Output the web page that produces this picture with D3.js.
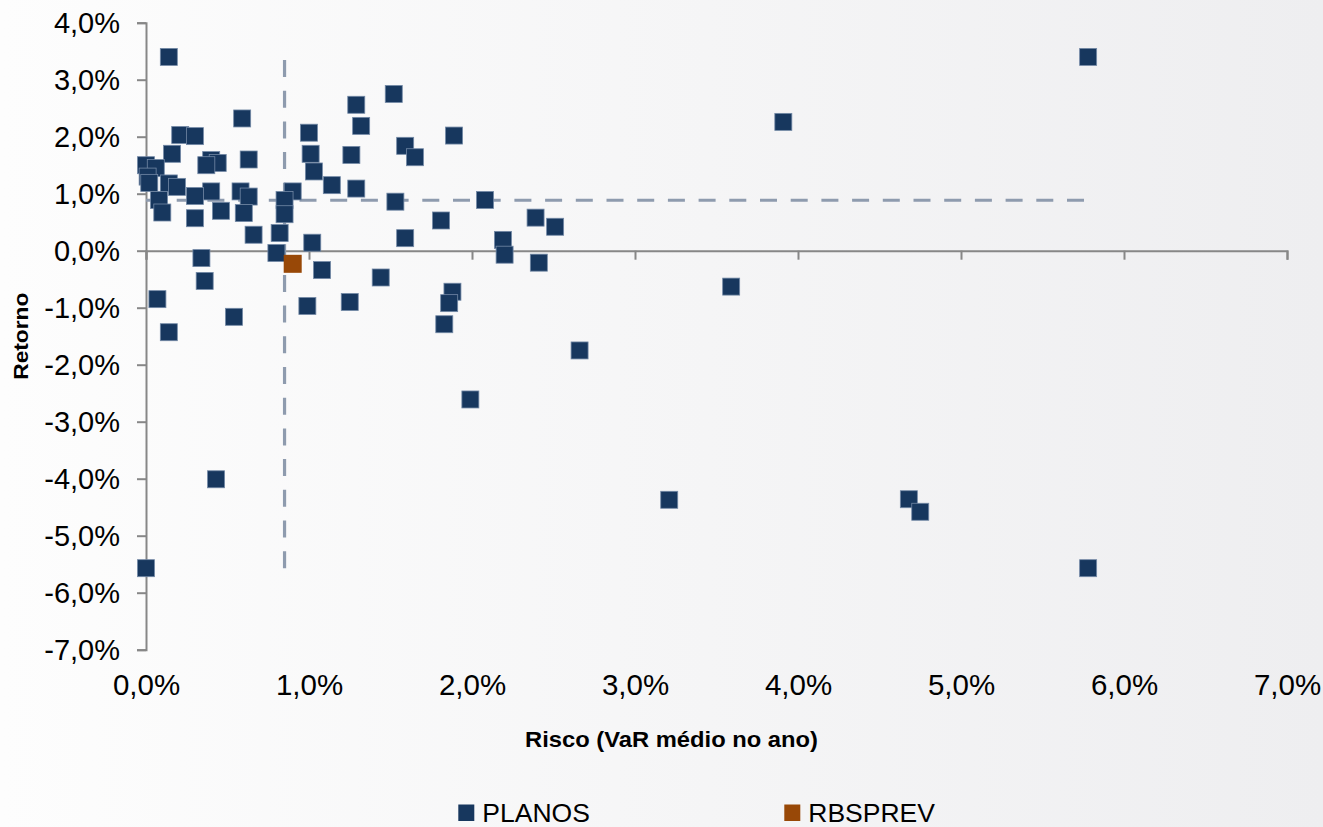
<!DOCTYPE html>
<html>
<head>
<meta charset="utf-8">
<script src="https://cdn.jsdelivr.net/npm/d3@7"></script>
<style>
  html, body { margin: 0; padding: 0; background: #f6f6f7; }
  svg { display: block; font-family: "Liberation Sans", Arial, sans-serif; }
</style>
</head>
<body>
<svg id="chart" width="1323" height="827"></svg>
<script>
// Risco (VaR médio no ano) x Retorno, in percent
const planosRisco = [
  0.14, 5.78, 1.52, 1.29, 0.59, 3.91, 1.32, 0.21, 0.30, 1.00,
  1.89, 1.59, 1.65, 0.16, 1.01, 1.26, 0.40, 0.44, 0.37, 0.63,
  0.00, 0.06, 0.01, 0.02, 0.14, 0.19, 1.03, 1.14, 1.29, 0.90,
  0.40, 0.30, 0.58, 0.63, 0.85, 1.53, 2.08, 0.08, 0.10, 0.30,
  0.46, 0.60, 0.85, 1.81, 2.39, 2.51, 0.66, 0.82, 1.02, 1.59,
  2.19, 2.20, 2.41, 0.80, 0.34, 1.08, 1.44, 0.36, 0.07, 0.54,
  0.14, 0.99, 1.25, 1.88, 1.86, 1.83, 1.99, 2.66, 3.59, 0.43,
  0.00, 3.21, 4.68, 4.75, 5.78
];
const planosRetorno = [
  3.40, 3.40, 2.75, 2.56, 2.32, 2.26, 2.19, 2.03, 2.01, 2.07,
  2.02, 1.84, 1.64, 1.70, 1.70, 1.68, 1.59, 1.54, 1.50, 1.60,
  1.50, 1.45, 1.30, 1.19, 1.18, 1.12, 1.39, 1.15, 1.09, 1.04,
  1.04, 0.96, 1.04, 0.95, 0.89, 0.86, 0.89, 0.89, 0.67, 0.57,
  0.70, 0.66, 0.64, 0.53, 0.58, 0.42, 0.28, 0.31, 0.14, 0.22,
  0.19, -0.07, -0.21, -0.04, -0.13, -0.34, -0.47, -0.53, -0.85, -1.16,
  -1.43, -0.97, -0.90, -0.72, -0.92, -1.29, -2.61, -1.75, -0.63, -4.01,
  -5.57, -4.37, -4.36, -4.58, -5.57
];
const rbsprevRisco = [0.90];
const rbsprevRetorno = [-0.23];

// reference lines (averages)
const mediaRisco = 0.85;
const mediaRetorno = 0.885;

const xTicks = [0, 1, 2, 3, 4, 5, 6, 7];
const yTicks = [4, 3, 2, 1, 0, -1, -2, -3, -4, -5, -6, -7];
const seriesNames = ["PLANOS", "RBSPREV"];
const seriesColors = ["#17375E", "#984807"];

const svg = d3.select("#chart");
const W = 1323, H = 827;

// background
const defs = svg.append("defs");
const grad = defs.append("linearGradient").attr("id", "bg").attr("x1", "0").attr("x2", "1").attr("y1", "0").attr("y2", "0");
grad.append("stop").attr("offset", "0").attr("stop-color", "#fdfdfd");
grad.append("stop").attr("offset", "1").attr("stop-color", "#eeeef0");
svg.append("rect").attr("width", W).attr("height", H).attr("fill", "url(#bg)");

const x = d3.scaleLinear().domain([0, 7]).range([146, 1287]);
const y = d3.scaleLinear().domain([-7, 4]).range([649.7, 22.7]);

const ptBR = d3.formatLocale({ decimal: ",", thousands: ".", grouping: [3], currency: ["R$", ""], minus: "-" });
const fmt = v => ptBR.format(".1f")(v) + "%";

// Y axis
const yAxis = svg.append("g")
  .attr("transform", `translate(${x(0)},0)`)
  .call(d3.axisLeft(y).tickValues(yTicks).tickSize(9).tickSizeOuter(9).tickPadding(0).tickFormat(fmt));
yAxis.selectAll("path, line").attr("stroke", "#878787").attr("stroke-width", 2);
yAxis.selectAll("text")
  .attr("x", -26)
  .attr("dy", null)
  .attr("y", 10)
  .attr("fill", "#000")
  .style("font-size", "29px")
  .attr("text-anchor", "end");

// X axis along the zero line, labels at the bottom
const xAxis = svg.append("g")
  .attr("transform", `translate(0,${y(0)})`)
  .call(d3.axisBottom(x).tickValues(xTicks).tickSize(9).tickSizeOuter(9).tickPadding(0).tickFormat(fmt));
xAxis.selectAll("path, line").attr("stroke", "#878787").attr("stroke-width", 2);
xAxis.selectAll("text")
  .attr("y", y(-7) + 45.5 - y(0))
  .attr("dy", null)
  .attr("fill", "#000")
  .style("font-size", "29.5px");

// average lines
const refColor = "#8E9BAE";
svg.append("line")
  .attr("x1", x(mediaRisco)).attr("x2", x(mediaRisco))
  .attr("y1", y(d3.min(planosRetorno))).attr("y2", y(d3.max(planosRetorno)))
  .attr("stroke", refColor).attr("stroke-width", 3.2).attr("stroke-dasharray", "17 13.7");
svg.append("line")
  .attr("x1", x(0)).attr("x2", x(d3.max(planosRisco)))
  .attr("y1", y(mediaRetorno)).attr("y2", y(mediaRetorno))
  .attr("stroke", refColor).attr("stroke-width", 3.2).attr("stroke-dasharray", "17 13.7");

// markers
const S = 17;
const planos = planosRisco.map((r, i) => ({ r, t: planosRetorno[i] }));
const rbs = rbsprevRisco.map((r, i) => ({ r, t: rbsprevRetorno[i] }));

svg.append("g").selectAll("rect").data(planos).join("rect")
  .attr("x", d => x(d.r) - S / 2).attr("y", d => y(d.t) - S / 2)
  .attr("width", S).attr("height", S)
  .attr("fill", seriesColors[0])
  .attr("stroke", "#7389A6").attr("stroke-width", 0.8);

svg.append("g").selectAll("rect").data(rbs).join("rect")
  .attr("x", d => x(d.r) - 9).attr("y", d => y(d.t) - 9)
  .attr("width", 18).attr("height", 18)
  .attr("fill", seriesColors[1]);

// axis titles
svg.append("text")
  .attr("x", 671.5).attr("y", 747)
  .attr("text-anchor", "middle")
  .attr("font-weight", "bold").style("font-size", "22.5px")
  .attr("textLength", 293).attr("lengthAdjust", "spacingAndGlyphs")
  .attr("fill", "#000")
  .text("Risco (VaR médio no ano)");

svg.append("text")
  .attr("transform", `translate(28.3,${(y(4) + y(-7)) / 2}) rotate(-90)`)
  .attr("text-anchor", "middle")
  .attr("font-weight", "bold").style("font-size", "21px")
  .attr("textLength", 87).attr("lengthAdjust", "spacingAndGlyphs")
  .attr("fill", "#000")
  .text("Retorno");

// legend
const legendX = [458.3, 784.3];
const lg = svg.append("g").selectAll("g").data(seriesNames).join("g")
  .attr("transform", (d, i) => `translate(${legendX[i]},0)`);
lg.append("rect").attr("x", 0).attr("y", 804.5).attr("width", 16).attr("height", 16.5)
  .attr("fill", (d, i) => seriesColors[i]);
lg.append("text").attr("x", 24).attr("y", 821.7)
  .style("font-size", "26.5px").attr("fill", "#000")
  .text(d => d);
</script>
</body>
</html>
